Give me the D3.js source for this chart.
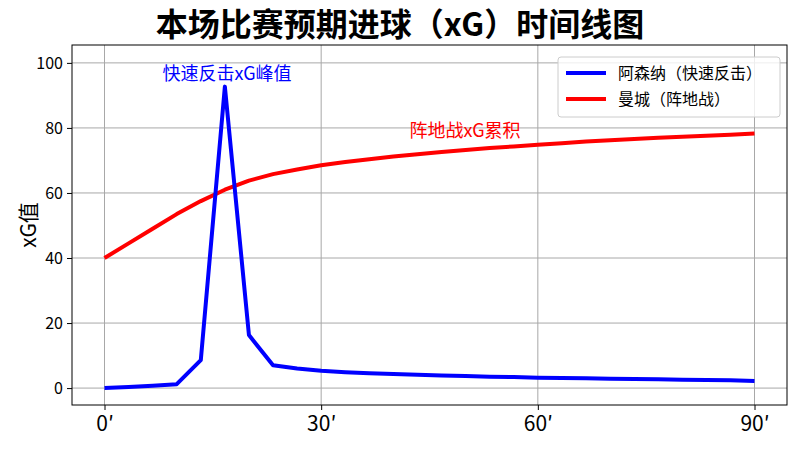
<!DOCTYPE html>
<html><head><meta charset="utf-8">
<script src="https://cdn.jsdelivr.net/npm/d3@7"></script>
<style>body{margin:0;background:#fff;font-family:"Noto Sans CJK SC","DejaVu Sans",sans-serif}</style>
</head><body>
<script>
// minutes (28 samples, 0..90)
const minutes = d3.range(28).map(i => i * 90 / 27);
const arsenalXG = [0,0.3,0.7,1.2,8.6,92.7,16.3,7,6,5.3,4.9,4.6,4.3,4.1,3.9,3.7,3.5,3.4,3.2,3.1,3.0,2.9,2.8,2.7,2.6,2.5,2.4,2.2];
const cityXG = [40,44.5,49,53.5,57.5,61,63.8,65.8,67.2,68.5,69.5,70.4,71.2,71.9,72.6,73.2,73.8,74.3,74.8,75.3,75.8,76.2,76.6,77,77.3,77.6,77.9,78.3];
const xTicks = [0, 30, 60, 90];
const yTicks = [0, 20, 40, 60, 80, 100];

const W = 800, H = 450;
const m = {left: 72, right: 13, top: 45, bottom: 45};
const FONT = '"Noto Sans CJK SC", sans-serif';

const svg = d3.select("body").append("svg").attr("width", W).attr("height", H);

const x = d3.scaleLinear().domain([-4.5, 94.5]).range([m.left, W - m.right]);
const y = d3.scaleLinear().domain([-5.2, 105.5]).range([H - m.bottom, m.top]);

// grid
svg.append("g").selectAll("line").data(xTicks).enter().append("line")
  .attr("x1", d => x(d)).attr("x2", d => x(d)).attr("y1", m.top).attr("y2", H - m.bottom)
  .attr("stroke", "#a8a8a8").attr("stroke-width", 1);
svg.append("g").selectAll("line").data(yTicks).enter().append("line")
  .attr("y1", d => y(d)).attr("y2", d => y(d)).attr("x1", m.left).attr("x2", W - m.right)
  .attr("stroke", "#a8a8a8").attr("stroke-width", 1);

// axes
const xAxis = svg.append("g").attr("transform", `translate(0,${H - m.bottom})`)
  .call(d3.axisBottom(x).tickValues(xTicks).tickFormat(d => d + "′").tickSizeOuter(0).tickSize(5).tickPadding(6));
xAxis.selectAll("text").style("font-size", "21px").style("font-family", FONT).attr("fill", "#000");
const yAxis = svg.append("g").attr("transform", `translate(${m.left},0)`)
  .call(d3.axisLeft(y).tickValues(yTicks).tickSizeOuter(0).tickSize(5).tickPadding(4));
yAxis.selectAll("text").style("font-size", "16px").style("font-family", FONT).attr("fill", "#000");
svg.selectAll(".domain").remove();
svg.append("rect").attr("x", m.left).attr("y", m.top).attr("width", W - m.left - m.right)
  .attr("height", H - m.top - m.bottom).attr("fill", "none").attr("stroke", "#000").attr("stroke-width", 1);

const line = d3.line().x((d, i) => x(minutes[i])).y(d => y(d));
svg.append("path").datum(cityXG).attr("d", line).attr("fill", "none")
  .attr("stroke", "#ff0000").attr("stroke-width", 4).attr("stroke-linejoin", "round");
svg.append("path").datum(arsenalXG).attr("d", line).attr("fill", "none")
  .attr("stroke", "#0000ff").attr("stroke-width", 4).attr("stroke-linejoin", "round");

// annotations
svg.append("text").attr("x", 227).attr("y", 80).attr("text-anchor", "middle")
  .style("font-family", FONT).style("font-size", "18px").attr("fill", "#0000ff").text("快速反击xG峰值");
svg.append("text").attr("x", 465).attr("y", 137).attr("text-anchor", "middle")
  .style("font-family", FONT).style("font-size", "18px").attr("fill", "#ff0000").text("阵地战xG累积");

// title
svg.append("text").attr("x", W / 2).attr("y", 36).attr("text-anchor", "middle")
  .style("font-family", FONT).style("font-size", "32px").style("font-weight", "bold").text("本场比赛预期进球（xG）时间线图");

// y label
svg.append("text").attr("transform", `translate(36,${(m.top + H - m.bottom) / 2}) rotate(-90)`)
  .attr("text-anchor", "middle").style("font-family", FONT).style("font-size", "21px").text("xG值");

// legend
const lg = svg.append("g").attr("transform", "translate(558,57)");
lg.append("rect").attr("width", 222).attr("height", 60).attr("rx", 3).attr("fill", "#fff")
  .attr("fill-opacity", 0.8).attr("stroke", "#ccc");
[["阿森纳（快速反击）", "#0000ff"], ["曼城（阵地战）", "#ff0000"]].forEach((d, i) => {
  lg.append("line").attr("x1", 8).attr("x2", 48).attr("y1", 16 + i * 26).attr("y2", 16 + i * 26)
    .attr("stroke", d[1]).attr("stroke-width", 4);
  lg.append("text").attr("x", 60).attr("y", 22 + i * 26).style("font-family", FONT)
    .style("font-size", "16px").text(d[0]);
});
</script>
</body></html>
